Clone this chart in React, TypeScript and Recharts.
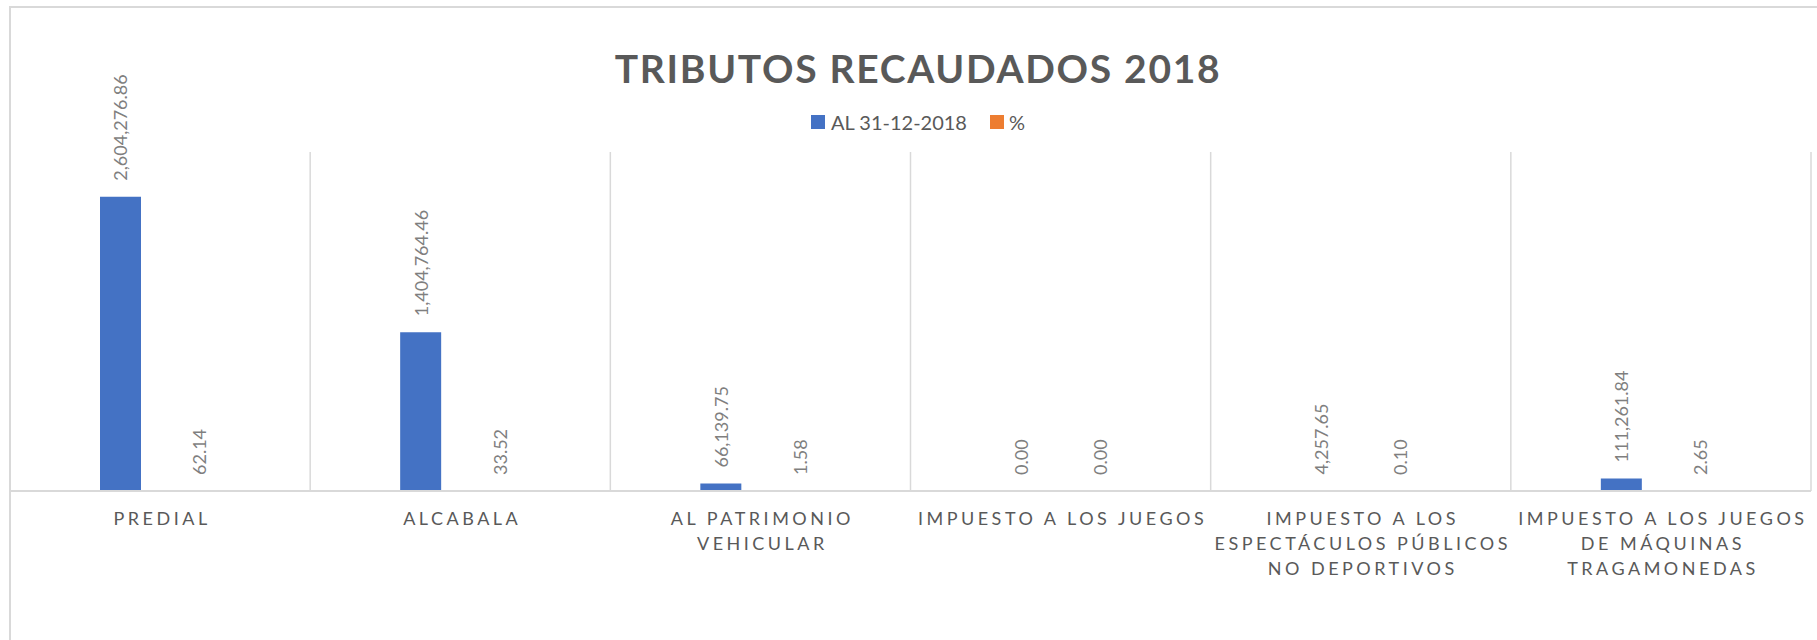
import React from 'react';
import { BarChart, Bar, XAxis, YAxis, CartesianGrid, Legend, LabelList } from 'recharts';

const categories = [
  'PREDIAL',
  'ALCABALA',
  'AL PATRIMONIO VEHICULAR',
  'IMPUESTO A LOS JUEGOS',
  'IMPUESTO A LOS ESPECTÁCULOS PÚBLICOS NO DEPORTIVOS',
  'IMPUESTO A LOS JUEGOS DE MÁQUINAS TRAGAMONEDAS',
];
// how each category label wraps under the axis
const tickLines = [
  ['PREDIAL'],
  ['ALCABALA'],
  ['AL PATRIMONIO', 'VEHICULAR'],
  ['IMPUESTO A LOS JUEGOS'],
  ['IMPUESTO A LOS', 'ESPECTÁCULOS PÚBLICOS', 'NO DEPORTIVOS'],
  ['IMPUESTO A LOS JUEGOS', 'DE MÁQUINAS', 'TRAGAMONEDAS'],
];
const recaudado = [2604276.86, 1404764.46, 66139.75, 0, 4257.65, 111261.84];
const porcentaje = [62.14, 33.52, 1.58, 0, 0.1, 2.65];

const seriesNames = ['AL 31-12-2018', '%'];
const colors = ['#4472C4', '#ED7D31'];

const data = categories.map((name, i) => ({
  name,
  recaudado: recaudado[i],
  porcentaje: porcentaje[i],
}));

const FONT = 'Lato, "Open Sans", sans-serif';

const fmt = (v: number) =>
  Number(v || 0).toLocaleString('en-US', { minimumFractionDigits: 2, maximumFractionDigits: 2 });

const CategoryTick = (props: any) => {
  const { x, y, payload } = props;
  const lines = tickLines[categories.indexOf(payload.value)] || [payload.value];
  return (
    <text
      x={x}
      y={y}
      textAnchor="middle"
      fill="#595959"
      fontSize={18}
      fontFamily={FONT}
      letterSpacing={3.5}
    >
      {lines.map((l, i) => (
        <tspan key={i} x={x + 2} dy={i === 0 ? 26 : 25}>
          {l}
        </tspan>
      ))}
    </text>
  );
};

// rotated value label sitting above each bar
const RotatedLabel = (props: any) => {
  const { x, y, width, height, value } = props;
  const cx = x + width / 2;
  const top = Math.min(y, y + (height || 0));
  const cy = top - 16;
  return (
    <text
      x={cx}
      y={cy}
      transform={`rotate(-90 ${cx} ${cy})`}
      textAnchor="start"
      dominantBaseline="central"
      fill="#7F7F7F"
      fontSize={18}
      fontFamily={FONT}
    >
      {fmt(value)}
    </text>
  );
};

const LegendContent = () => (
  <div
    style={{
      display: 'flex',
      justifyContent: 'center',
      alignItems: 'center',
      height: 20,
      fontFamily: FONT,
      fontSize: 20,
      color: '#595959',
    }}
  >
    {seriesNames.map((s, i) => (
      <div key={s} style={{ display: 'flex', alignItems: 'center', marginRight: i === 0 ? 23 : 0 }}>
        <span style={{ width: 14, height: 14, background: colors[i], marginRight: i === 0 ? 6 : 5 }} />
        <span>{s}</span>
      </div>
    ))}
  </div>
);

export default function App() {
  const gridX = ({ offset }: any) =>
    categories.map((_, i) => offset.left + (i * offset.width) / categories.length).concat(offset.left + offset.width);

  return (
    <div
      style={{
        position: 'fixed',
        left: 0,
        top: 0,
        width: 1817,
        height: 640,
        overflow: 'hidden',
        background: '#fff',
      }}
    >
      <div
        style={{
          position: 'absolute',
          left: 9,
          top: 6,
          width: 1900,
          height: 700,
          borderLeft: '2px solid #D9D9D9',
          borderTop: '2px solid #D9D9D9',
        }}
      />
      <svg style={{ position: 'absolute', left: 0, top: 0 }} width={1817} height={100}>
        <text
          x={918}
          y={83}
          textAnchor="middle"
          fill="#595959"
          fontSize={39}
          fontWeight="bold"
          fontFamily={FONT}
          letterSpacing={1.7}
        >
          TRIBUTOS RECAUDADOS 2018
        </text>
      </svg>
      <div style={{ position: 'absolute', left: 0, top: 0 }}>
        <BarChart
          width={1817}
          height={640}
          data={data}
          margin={{ top: 132, right: 6, bottom: 89, left: 10 }}
          barSize={41}
          barGap={38}
        >
          <CartesianGrid
            horizontal={false}
            stroke="#D9D9D9"
            strokeWidth={1.5}
            verticalCoordinatesGenerator={gridX}
          />
          <XAxis
            dataKey="name"
            height={60}
            interval={0}
            axisLine={{ stroke: '#D9D9D9', strokeWidth: 2 }}
            tickLine={false}
            tick={<CategoryTick />}
          />
          <YAxis hide domain={[0, 3000000]} />
          <Legend
            verticalAlign="top"
            height={20}
            content={<LegendContent />}
            wrapperStyle={{ top: 112, left: 0, width: 1836 }}
          />
          <Bar
            dataKey="recaudado"
            name={seriesNames[0]}
            fill={colors[0]}
            minPointSize={0.01}
            isAnimationActive={false}
          >
            <LabelList dataKey="recaudado" content={<RotatedLabel />} />
          </Bar>
          <Bar
            dataKey="porcentaje"
            name={seriesNames[1]}
            fill={colors[1]}
            minPointSize={0.01}
            isAnimationActive={false}
          >
            <LabelList dataKey="porcentaje" content={<RotatedLabel />} />
          </Bar>
        </BarChart>
      </div>
    </div>
  );
}
